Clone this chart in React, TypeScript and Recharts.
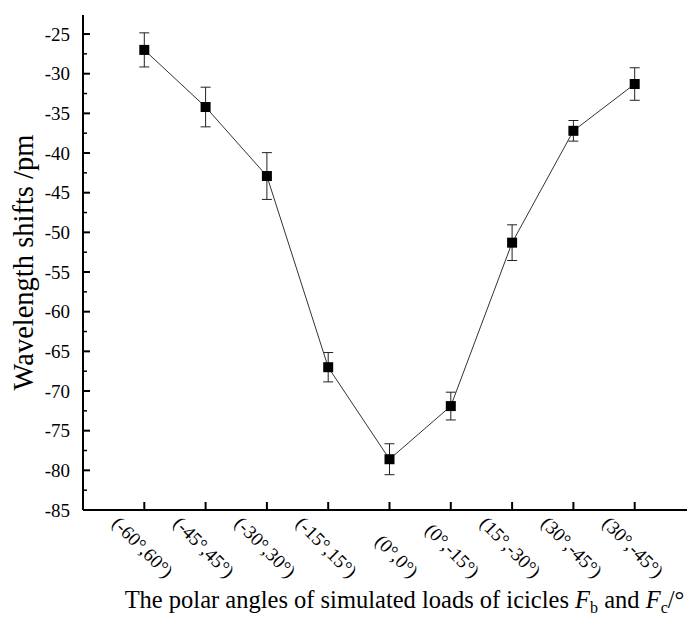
import React from 'react';
import { LineChart, Line, XAxis, YAxis, ErrorBar, Label } from 'recharts';

const categories = ['(-60°,60°)', '(-45°,45°)', '(-30°,30°)', '(-15°,15°)', '(0°,0°)', '(0°,-15°)', '(15°,-30°)', '(30°,-45°)', '(30°,-45°)'];
const shifts = [-27.0, -34.2, -42.9, -67.0, -78.6, -71.9, -51.3, -37.2, -31.3];
const errors = [2.15, 2.5, 2.95, 1.85, 1.95, 1.75, 2.25, 1.3, 2.05];
const yTicks = [-85, -82.5, -80, -77.5, -75, -72.5, -70, -67.5, -65, -62.5, -60, -57.5, -55, -52.5, -50, -47.5, -45, -42.5, -40, -37.5, -35, -32.5, -30, -27.5, -25];
const yDomain = [-85, -22.6];

const data = categories.map((c, i) => ({ cat: c, v: shifts[i], err: errors[i] }));

const FONT = '"Liberation Serif", "Times New Roman", serif';

const isMajor = (v: number) => Math.abs(v % 5) < 1e-6;

const LeftTick = (props: any) => {
  const { x, y, payload } = props;
  const v = payload.value;
  const major = isMajor(v);
  return (
    <g>
      <line x1={x} y1={y} x2={x + (major ? 7 : 4)} y2={y} stroke="#000" strokeWidth={major ? 2 : 1.5} />
      {major && (
        <text x={x - 13} y={y} dy={6.5} textAnchor="end" fontSize={19} fontFamily={FONT} fill="#000">
          {String(v)}
        </text>
      )}
    </g>
  );
};

const RightTick = (props: any) => {
  const { x, y, payload } = props;
  const major = isMajor(payload.value);
  return (
    <g>
      <line x1={x} y1={y} x2={x - (major ? 8 : 4)} y2={y} stroke="#000" strokeWidth={major ? 2 : 1.5} />
    </g>
  );
};

const TopTick = (props: any) => {
  const { x, y } = props;
  return <line x1={x} y1={y} x2={x} y2={y + 8} stroke="#000" strokeWidth={2} />;
};

const BottomTick = (props: any) => {
  const { x, y, payload } = props;
  const ex = x + 21;
  const ey = y + 69;
  return (
    <g>
      <line x1={x} y1={y} x2={x} y2={y - 8} stroke="#000" strokeWidth={2} />
      <text
        x={ex}
        y={ey}
        textAnchor="end"
        fontSize={19}
        fontFamily={FONT}
        fill="#000"
        transform={`rotate(45, ${ex}, ${ey})`}
      >
        {payload.value}
      </text>
    </g>
  );
};

const Square = (p: any) => {
  if (p.cx == null || p.cy == null) return <g key={p.index} />;
  return <rect key={p.index} x={p.cx - 5} y={p.cy - 5} width={10} height={10} fill="#000" />;
};

const YTitle = (props: any) => {
  const vb = props.viewBox;
  const cx = vb.x + 25;
  const cy = vb.y + vb.height / 2;
  return (
    <text x={cx} y={cy} textAnchor="middle" fontSize={28.5} fontFamily={FONT} fill="#000" transform={`rotate(-90, ${cx}, ${cy})`}>
      Wavelength shifts /pm
    </text>
  );
};

const XTitle = (props: any) => {
  const vb = props.viewBox;
  const cx = vb.x + vb.width / 2 + 15;
  const cy = vb.y + 98;
  return (
    <text x={cx} y={cy} textAnchor="middle" fontSize={24.5} fontFamily={FONT} fill="#000">
      <tspan>The polar angles of simulated loads of icicles </tspan>
      <tspan fontStyle="italic">F</tspan>
      <tspan fontSize={16} dy={5}>b</tspan>
      <tspan dy={-5}> and </tspan>
      <tspan fontStyle="italic">F</tspan>
      <tspan fontSize={16} dy={5}>c</tspan>
      <tspan dy={-5}>/°</tspan>
    </text>
  );
};

export default function App() {
  return (
    <div style={{ width: 687, height: 609, overflow: 'hidden' }}>
      <LineChart width={690} height={609} data={data} margin={{ top: 7, right: 0, bottom: 0, left: 0 }}>
        <XAxis
          xAxisId="bottom"
          dataKey="cat"
          orientation="bottom"
          height={107}
          padding={{ left: 61.3, right: 61.3 }}
          interval={0}
          tickSize={0}
          tickMargin={0}
          tickLine={false}
          tick={<BottomTick />}
          axisLine={{ stroke: '#000', strokeWidth: 2 }}
        >
          <Label content={<XTitle />} />
        </XAxis>
        <XAxis
          xAxisId="top"
          dataKey="cat"
          orientation="top"
          height={0}
          padding={{ left: 61.3, right: 61.3 }}
          interval={0}
          tickSize={0}
          tickMargin={0}
          tickLine={false}
          tick={<TopTick />}
          axisLine={{ stroke: '#000', strokeWidth: 2 }}
        />
        <YAxis
          yAxisId="left"
          orientation="left"
          width={75}
          type="number"
          domain={yDomain}
          ticks={yTicks}
          interval={0}
          allowDataOverflow
          tickSize={0}
          tickMargin={0}
          tickLine={false}
          tick={<LeftTick />}
          axisLine={{ stroke: '#000', strokeWidth: 2 }}
        >
          <Label content={<YTitle />} />
        </YAxis>
        <YAxis
          yAxisId="right"
          orientation="right"
          width={2}
          type="number"
          domain={yDomain}
          ticks={yTicks}
          interval={0}
          allowDataOverflow
          tickSize={0}
          tickMargin={0}
          tickLine={false}
          tick={<RightTick />}
          axisLine={{ stroke: '#000', strokeWidth: 2 }}
        />
        <Line
          xAxisId="top"
          yAxisId="right"
          dataKey="v"
          stroke="none"
          dot={false}
          activeDot={false}
          isAnimationActive={false}
        />
        <Line
          xAxisId="bottom"
          yAxisId="left"
          type="linear"
          dataKey="v"
          stroke="#333"
          strokeWidth={1}
          dot={Square}
          activeDot={false}
          isAnimationActive={false}
        >
          <ErrorBar dataKey="err" direction="y" width={5} strokeWidth={1} stroke="#222" />
        </Line>
      </LineChart>
    </div>
  );
}
